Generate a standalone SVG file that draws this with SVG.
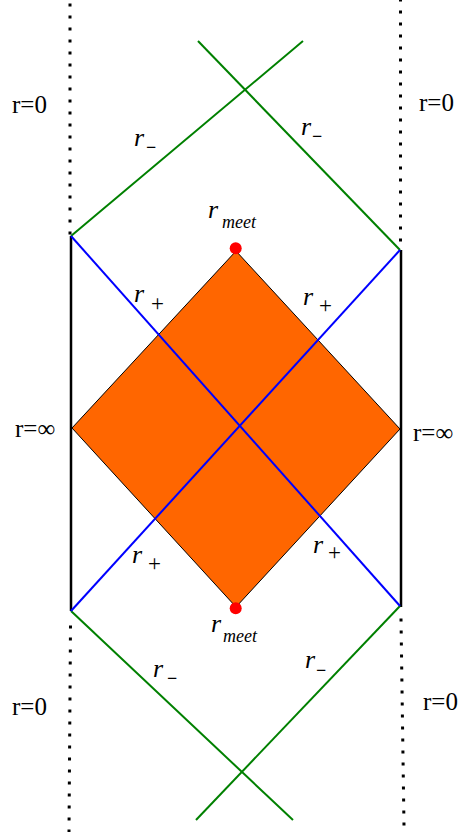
<svg xmlns="http://www.w3.org/2000/svg" width="459" height="837" viewBox="0 0 459 837">
<style>
.dot{stroke:#000;stroke-width:3;stroke-dasharray:3 9;fill:none}
.edge{stroke:#000;stroke-width:2.5;fill:none}
.grn{stroke:#008000;stroke-width:2;fill:none}
.blu{stroke:#0000ff;stroke-width:2;fill:none}
.lbl{font-family:"Liberation Serif","Times New Roman",serif;font-size:25px;fill:#000}
.it{font-style:italic;font-size:26px}
.sub{font-size:23px}
.mn{font-size:18px;font-weight:bold}
.subm{font-size:18px;font-style:italic}
</style>
<rect width="459" height="837" fill="#fff"/>
<g id="boundaries">
<line class="dot" x1="70" y1="3.5" x2="70" y2="236"/>
<line class="dot" x1="400.5" y1="-1.5" x2="400.5" y2="250"/>
<line class="dot" x1="70.5" y1="625.5" x2="69" y2="832"/>
<line class="dot" x1="401" y1="618.5" x2="404" y2="826"/>
<line class="edge" x1="71" y1="236" x2="71" y2="611"/>
<line class="edge" x1="401" y1="250" x2="401" y2="607"/>
</g>
<g id="region">
<polygon points="236,251 400,429 236,607 72,428" fill="#ff6600" stroke="#000" stroke-width="1"/>
</g>
<g id="connectors">
<line class="grn" x1="71" y1="236" x2="303" y2="41"/>
<line class="grn" x1="198" y1="41" x2="400" y2="250"/>
<line class="grn" x1="71" y1="611" x2="293" y2="820"/>
<line class="grn" x1="196" y1="820" x2="400" y2="606"/>
<line class="blu" x1="71" y1="236" x2="400" y2="606"/>
<line class="blu" x1="71" y1="611" x2="400" y2="250"/>
</g>
<g id="points">
<circle cx="235.7" cy="248.3" r="6" fill="#ff0000"/>
<circle cx="235.7" cy="608.3" r="6" fill="#ff0000"/>
</g>
<g id="labels" class="lbl">
<text x="12" y="113">r=0</text>
<text x="419" y="111">r=0</text>
<text x="12" y="715">r=0</text>
<text x="423" y="710">r=0</text>
<text x="15" y="437">r=∞</text>
<text x="413" y="441">r=∞</text>
<text><tspan class="it" x="134" y="146">r</tspan><tspan class="mn" x="146" y="152.5">−</tspan></text>
<text><tspan class="it" x="301" y="135">r</tspan><tspan class="mn" x="312" y="141.5">−</tspan></text>
<text><tspan class="it" x="153" y="677">r</tspan><tspan class="mn" x="167" y="683.5">−</tspan></text>
<text><tspan class="it" x="305" y="668">r</tspan><tspan class="mn" x="316" y="675.5">−</tspan></text>
<text><tspan class="it" x="134" y="302">r</tspan><tspan class="sub" x="151" y="311">+</tspan></text>
<text><tspan class="it" x="303" y="305">r</tspan><tspan class="sub" x="319" y="313">+</tspan></text>
<text><tspan class="it" x="132" y="563">r</tspan><tspan class="sub" x="148" y="571">+</tspan></text>
<text><tspan class="it" x="313" y="553">r</tspan><tspan class="sub" x="328" y="560">+</tspan></text>
<text><tspan class="it" x="208" y="218">r</tspan><tspan class="subm" x="222" y="228">meet</tspan></text>
<text><tspan class="it" x="211" y="632">r</tspan><tspan class="subm" x="223" y="642">meet</tspan></text>
</g>
</svg>
